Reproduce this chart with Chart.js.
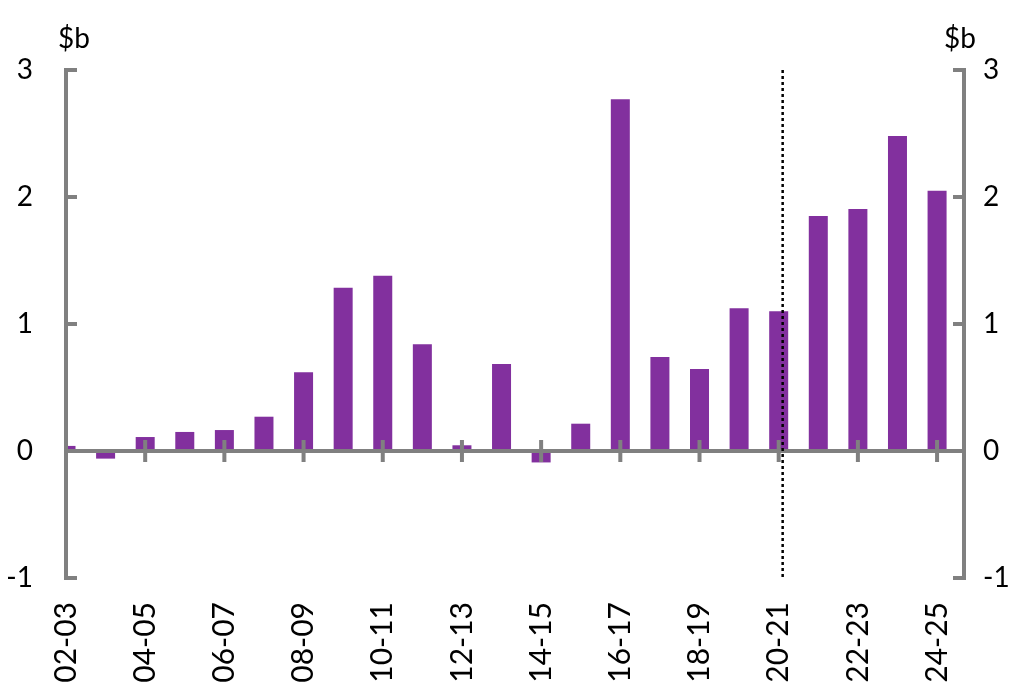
<!DOCTYPE html>
<html>
<head>
<meta charset="utf-8">
<script src="https://cdn.jsdelivr.net/npm/chart.js@4"></script>
<style>
  html, body { margin: 0; padding: 0; background: #fff; }
  #wrap { width: 1031px; height: 687px; }
</style>
</head>
<body>
<div id="wrap"><canvas id="chart" width="1031" height="687"></canvas></div>
<script>
// Financial years shown on the axis
const categories = [
    '02-03', '03-04', '04-05', '05-06', '06-07', '07-08', '08-09', '09-10',
    '10-11', '11-12', '12-13', '13-14', '14-15', '15-16', '16-17', '17-18',
    '18-19', '19-20', '20-21', '21-22', '22-23', '23-24', '24-25'
];

// Values in $b
const values = [
    0.04, -0.06, 0.11, 0.15, 0.165, 0.27, 0.62, 1.285,
    1.38, 0.84, 0.045, 0.685, -0.09, 0.215, 2.77, 0.74,
    0.645, 1.125, 1.10, 1.85, 1.905, 2.48, 2.05
];

const yTicks = [-1, 0, 1, 2, 3];
const unitLabel = '$b';
const forecastFrom = '20-21';

const gray = '#808080';
const purple = '#82309e';
const fontFamily = 'Lato, "Open Sans", sans-serif';

// Axis lines, inner tick marks, zero line, the dotted divider and the unit titles
const axisDecor = {
    id: 'axisDecor',
    afterDatasetsDraw(chart) {
        const { ctx } = chart;
        const xs = chart.scales.x;
        const ys = chart.scales.y;
        const left = xs.left;
        const right = xs.right;
        const top = ys.getPixelForValue(yTicks[yTicks.length - 1]);
        const bottom = ys.getPixelForValue(yTicks[0]);
        const y0 = ys.getPixelForValue(0);

        ctx.save();
        ctx.strokeStyle = gray;
        ctx.lineWidth = 4;

        ctx.beginPath();
        ctx.moveTo(left, top - 2);
        ctx.lineTo(left, bottom + 2);
        ctx.moveTo(right, top - 2);
        ctx.lineTo(right, bottom + 2);
        yTicks.forEach((t) => {
            const py = ys.getPixelForValue(t);
            ctx.moveTo(left, py);
            ctx.lineTo(left + 11, py);
            ctx.moveTo(right - 11, py);
            ctx.lineTo(right, py);
        });
        ctx.moveTo(left, y0);
        ctx.lineTo(right, y0);
        categories.forEach((c, i) => {
            if (i % 2 !== 0) return;
            const px = xs.getPixelForValue(i);
            ctx.moveTo(px, y0 - 11);
            ctx.lineTo(px, y0 + 11);
        });
        ctx.stroke();

        // dotted divider
        const dx = xs.getPixelForValue(categories.indexOf(forecastFrom) + 0.1);
        ctx.strokeStyle = '#000';
        ctx.lineWidth = 2.5;
        ctx.setLineDash([3, 3]);
        ctx.beginPath();
        ctx.moveTo(dx, top);
        ctx.lineTo(dx, bottom);
        ctx.stroke();
        ctx.setLineDash([]);

        // unit titles
        ctx.fillStyle = '#000';
        ctx.font = '28px ' + fontFamily;
        ctx.textAlign = 'center';
        ctx.textBaseline = 'middle';
        ctx.fillText(unitLabel, left + 8, top - 31);
        ctx.fillText(unitLabel, right - 4, top - 31);
        ctx.restore();
    }
};

const ctx = document.getElementById('chart').getContext('2d');
const chart = new Chart(ctx, {
    type: 'bar',
    data: {
        datasets: [{
            data: values.map((v, i) => ({ x: i, y: v })),
            backgroundColor: purple,
            borderWidth: 0,
            barPercentage: 0.48,
            categoryPercentage: 1,
            yAxisID: 'y',
        }],
    },
    options: {
        responsive: false,
        animation: false,
        devicePixelRatio: 1,
        layout: { padding: { top: 70, left: 0, right: 0, bottom: 0 } },
        plugins: {
            legend: { display: false },
            tooltip: { enabled: false },
        },
        scales: {
            x: {
                type: 'linear',
                position: 'bottom',
                offset: false,
                min: 0,
                max: 22.68,
                grid: { display: false, drawTicks: false, offset: false },
                border: { display: false },
                afterBuildTicks(scale) {
                    scale.ticks = categories
                        .map((c, i) => ({ value: i }))
                        .filter((t) => t.value % 2 === 0);
                },
                afterFit(scale) { scale.height = 109; },
                ticks: {
                    autoSkip: false,
                    minRotation: 90,
                    maxRotation: 90,
                    padding: 24,
                    color: '#000',
                    font: { size: 30, family: fontFamily },
                    callback: (v) => categories[v],
                },
            },
            y: {
                position: 'left',
                min: -1,
                max: 3,
                grid: { display: false, drawTicks: false },
                border: { display: false },
                afterFit(scale) { scale.width = 66; },
                ticks: {
                    stepSize: 1,
                    padding: 33,
                    color: '#000',
                    font: { size: 28, family: fontFamily },
                },
            },
            y2: {
                position: 'right',
                min: -1,
                max: 3,
                grid: { display: false, drawTicks: false },
                border: { display: false },
                afterFit(scale) { scale.width = 67; },
                ticks: {
                    stepSize: 1,
                    padding: 19,
                    color: '#000',
                    font: { size: 28, family: fontFamily },
                },
            },
        },
    },
    plugins: [axisDecor],
});
</script>
</body>
</html>
